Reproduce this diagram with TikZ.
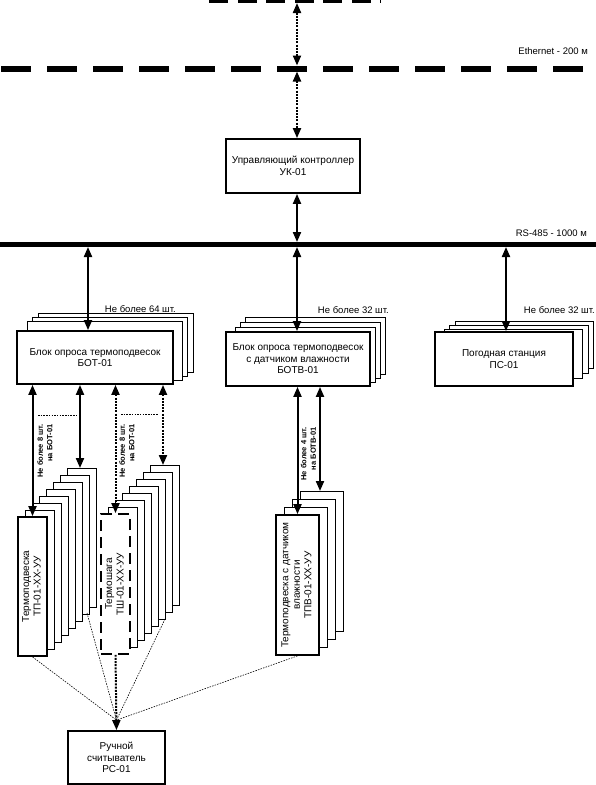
\documentclass[tikz,border=0pt]{standalone}
\usepackage{fontspec}
\setmainfont{Liberation Sans}
\usetikzlibrary{arrows.meta, calc}

\newcommand{\vtext}[1]{\rotatebox{90}{\begin{tabular}{@{}c@{}}#1\end{tabular}}}

\tikzset{
  >={Triangle[length=10pt,width=8pt]},
  box/.style={draw, line width=1.8pt, fill=white, align=center, inner sep=1pt,
    font=\fontsize{10}{11.5}\selectfont},
  back/.style={draw, line width=0.8pt, fill=white},
  link/.style={<->, line width=2pt},
  dlink/.style={<->, line width=2pt, dash pattern=on 2pt off 1.2pt},
  hint/.style={line width=0.6pt, dash pattern=on 1.5pt off 1.2pt},
  note/.style={inner sep=0pt, font=\fontsize{9.5}{11}\selectfont},
  tiny/.style={inner sep=0pt, rotate=90, align=right,
    font=\fontsize{7.5}{9.5}\selectfont\bfseries},
}

\begin{document}
\begin{tikzpicture}[x=1pt, y=-1pt]
\clip (0,0) rectangle (596,785);

% networks
\draw[line width=6pt, dash pattern=on 19pt off 9.5pt] (209,0) -- (381,0);
\draw[line width=6pt, dash pattern=on 30pt off 16pt] (1,68.5) -- (586,68.5);
\draw[line width=5pt] (0,244.5) -- (596,244.5);
\node[note, anchor=east] (eth) at (588,51.5) {Ethernet - 200 м};
\node[note, anchor=east] (rs485) at (587,233) {RS-485 - 1000 м};

\coordinate (wan) at (297,3);
\coordinate (lanN) at (297,65.5);
\coordinate (lanS) at (297,71.5);
\coordinate (busN) at (297,242);
\coordinate (bus1) at (88,247);
\coordinate (bus2) at (297,247);
\coordinate (bus3) at (506,247);

\node[box, minimum width=134, minimum height=54] (uk) at (293,166) {Управляющий контроллер\\УК-01};

% BOT-01
\foreach \k in {3,2,1}
  \draw[back] ({21.5+5.5*\k},{325-4*\k}) rectangle ({176.5+5.5*\k},{384-4*\k});
\node[box, minimum width=156, minimum height=53] (bot) at (95,357.5) {Блок опроса термоподвесок\\БОТ-01};
\node[note, anchor=east] (botn) at (176,309.5) {Не более 64 шт.};

% BOTV-01
\foreach \k in {3,2,1}
  \draw[back] ({230+5*\k},{332-5*\k}) rectangle ({370+5*\k},{386-4*\k});
\node[box, minimum width=144, minimum height=54] (botv) at (298,359) {Блок опроса термоподвесок\\с датчиком влажности\\БОТВ-01};
\node[note, anchor=east] (botvn) at (389,310) {Не более 32 шт.};

% PS-01
\foreach \k in {3,2,1}
  \draw[back] ({438.5+5.5*\k},{333-4*\k}) rectangle ({577+5.5*\k},{383-5*\k});
\node[box, minimum width=138, minimum height=54] (ps) at (504,359) {Погодная станция\\ПС-01};
\node[note, anchor=east] (psn) at (595,310) {Не более 32 шт.};

% sensors
\foreach \k in {7,...,1}
  \draw[back] ({18+7*\k},{517-7*\k}) rectangle ({47+7*\k},{656-7*\k});
\node[box, minimum width=29, minimum height=139] (tp) at (32.5,586.5) {\vtext{Термоподвеска\\ТП-01-ХХ-УУ}};

\foreach \k in {7,...,1}
  \draw[back] ({101+7*\k},{514-7*\k}) rectangle ({130+7*\k},{654-7*\k});
\node[box, dash pattern=on 11pt off 6pt, minimum width=29, minimum height=140] (tsh) at (115.5,584) {\vtext{Термошага\\ТШ-01-ХХ-УУ}};

\foreach \k in {3,2,1}
  \draw[back] ({276+8*\k},{515-8*\k}) rectangle ({319+8*\k},{655-8*\k});
\node[box, minimum width=43, minimum height=140] (tpv) at (297.5,585) {\vtext{Термоподвеска с датчиком\\влажности\\ТПВ-01-ХХ-УУ}};

\node[box, minimum width=97, minimum height=53] (rs) at (116.5,757.5) {Ручной\\считыватель\\РС-01};

\coordinate (tpb) at (80,468);
\coordinate (tshb) at (163,465);
\coordinate (tpvb) at (320,491);
\coordinate (tpe) at (87,613);
\coordinate (tshe) at (165,619);
\coordinate (conv) at ($(rs.north)+(0,-10)$);

% links
\draw[dlink] (wan) -- (lanN);
\draw[dlink] (lanS) -- (uk.north -| wan);
\draw[link] (uk.south -| busN) -- (busN);
\draw[link] (bus1) -- (bus1 |- bot.north);
\draw[link] (bus2) -- (bus2 |- botv.north);
\draw[link] (bus3) -- (bus3 |- ps.north);

\draw[link] (bot.south -| tp.north) -- (tp.north);
\draw[link] (bot.south -| tpb) -- (tpb);
\draw[dlink] (bot.south -| tsh.north) -- (tsh.north);
\draw[dlink] (bot.south -| tshb) -- (tshb);
\draw[link] (botv.south -| tpv.north) -- (tpv.north);
\draw[link] (botv.south -| tpvb) -- (tpvb);

\draw[hint] (38,415) -- (76,415);
\draw[hint] (121,414) -- (158,414);

\node[tiny, anchor=east] (botq1) at (45,424) {Не более 8 шт.\\на БОТ-01};
\node[tiny, anchor=east] (botq2) at (127,424) {Не более 8 шт.\\на БОТ-01};
\node[tiny, anchor=east] (botvq) at (308.5,427) {Не более 4 шт.\\на БОТВ-01};

% reader
\draw[hint] (tp.south) -- (conv);
\draw[hint] (tpe) -- (conv);
\draw[hint] (tshe) -- (conv);
\draw[hint] (tpv.south) -- (conv);
\draw[dlink, <-] (rs.north) -- (tsh.south);
\end{tikzpicture}
\end{document}
